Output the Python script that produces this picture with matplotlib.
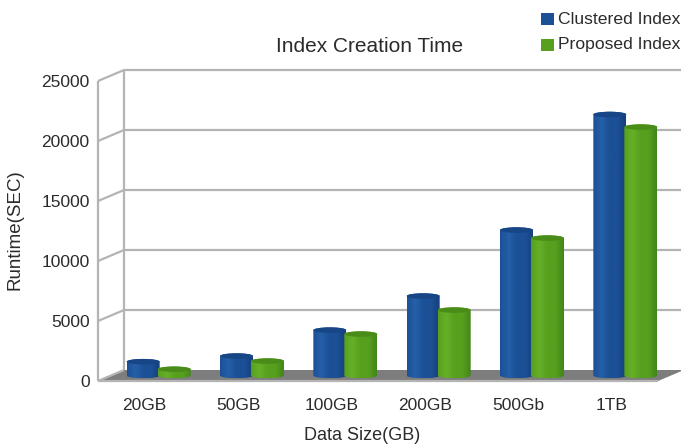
import numpy as np
import matplotlib
matplotlib.use("Agg")
import matplotlib.pyplot as plt
from matplotlib.colors import LinearSegmentedColormap
from matplotlib.patches import Ellipse, PathPatch, Polygon, Rectangle
from matplotlib.path import Path

categories = ["20GB", "50GB", "100GB", "200GB", "500Gb", "1TB"]
clustered = [1150, 1620, 3780, 6620, 12120, 21750]
proposed = [520, 1200, 3450, 5450, 11450, 20700]
y_ticks = [0, 5000, 10000, 15000, 20000, 25000]

W, H = 681, 446
plt.rcParams["font.family"] = ["Liberation Sans", "DejaVu Sans"]
TEXT = "#2b2b2b"
GRID = "#b4b4b4"

fig = plt.figure(figsize=(W / 100, H / 100), dpi=100)
ax = fig.add_axes([98 / W, 1 - 381 / H, 560 / W, 300 / H])
ax.set_xlim(0, 6)
ax.set_ylim(0, 25000)
for s in ax.spines.values():
    s.set_visible(False)

# Oblique depth of the 3D box, in data units
DX = 26 / (560 / 6)
DY = 11 / (300 / 25000)


def box_line(xs, ys, **kw):
    ax.plot(xs, ys, color=GRID, lw=1.6, clip_on=False, solid_capstyle="butt", zorder=1, **kw)


# Floor, back wall grid and side wall
ax.add_patch(Polygon([(0, 0), (DX, DY), (6 + DX, DY), (6, 0)], closed=True,
                     fc="#7d7d7d", ec="none", clip_on=False, zorder=0.5))
for t in y_ticks[1:]:
    box_line([DX, 6 + DX], [t + DY, t + DY])
    box_line([0, DX], [t, t + DY])
box_line([0, DX], [0, DY])
box_line([DX, DX], [DY, 25000 + DY])
box_line([0, 0], [0, 25000])
box_line([0, 6], [0, 0])


def cylinder(x0, x1, base, top, dark, mid, light, cap, z):
    """Vertical cylinder with horizontal shading, seated on the floor."""
    cx = (x0 + x1) / 2
    rx = (x1 - x0) / 2
    ry = 230
    th = np.linspace(np.pi, 2 * np.pi, 40)
    lower = np.column_stack([cx + rx * np.cos(th), base + ry * np.sin(th)])
    upper = np.column_stack([cx - rx * np.cos(th), top - ry * np.sin(th)])
    outline = np.vstack([lower, upper, lower[:1]])
    clip = PathPatch(Path(outline), transform=ax.transData, fc="none", ec="none")
    ax.add_patch(clip)
    cmap = LinearSegmentedColormap.from_list("body", [mid, light, mid, mid, dark])
    grad = np.linspace(0, 1, 64).reshape(1, -1)
    im = ax.imshow(grad, extent=(x0, x1, base - ry, top + ry), aspect="auto",
                   cmap=cmap, origin="lower", zorder=z, clip_on=True)
    im.set_clip_path(clip)
    ax.add_patch(Ellipse((cx, top), x1 - x0, 2 * ry, fc=cap, ec="none", zorder=z + 0.01, clip_on=False))


BASE = DY / 2
BAR = 33 / (560 / 6)
OVERLAP = 2 / (560 / 6)
for i in range(len(categories)):
    c = i + 0.5 + DX / 2
    cylinder(c - BAR + OVERLAP, c + OVERLAP, BASE, BASE + clustered[i],
             "#143f7a", "#1c5096", "#2560a8", "#174585", 3 + i)
    cylinder(c, c + BAR, BASE, BASE + proposed[i],
             "#42851a", "#57a01e", "#66b028", "#4a8c18", 3.5 + i)

ax.set_xlim(0, 6)
ax.set_ylim(0, 25000)
ax.set_xticks(np.arange(len(categories)) + 0.5, categories)
ax.set_yticks(y_ticks)
ax.tick_params(length=0, labelsize=12.5, labelcolor=TEXT)
ax.tick_params(axis="x", pad=12)
ax.tick_params(axis="y", pad=6)

fig.text(370 / W, 1 - 46 / H, "Index Creation Time", ha="center", va="center", fontsize=15, color=TEXT)
fig.text(362 / W, 1 - 435 / H, "Data Size(GB)", ha="center", va="center", fontsize=13, color=TEXT)
fig.text(15 / W, 1 - 230 / H, "Runtime(SEC)", ha="center", va="center", rotation=90, fontsize=13.5, color=TEXT)

# Legend keys and labels in the top right corner
for y, col, lab in [(19, "#1c5096", "Clustered Index"), (45, "#57a01e", "Proposed Index")]:
    fig.add_artist(Rectangle((541 / W, 1 - (y + 6) / H), 13 / W, 12 / H, fc=col, ec="none",
                             transform=fig.transFigure))
    fig.text(558 / W, 1 - y / H, lab, ha="left", va="center", fontsize=12.6, color=TEXT)

fig.savefig("out.png", dpi=100)
